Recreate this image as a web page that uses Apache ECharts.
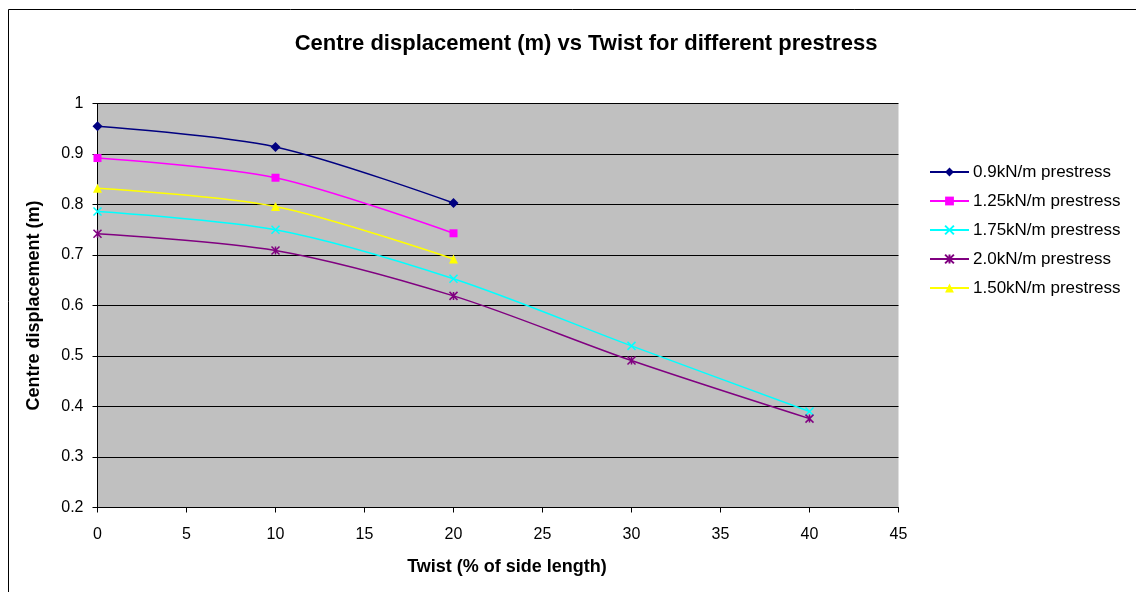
<!DOCTYPE html>
<html>
<head>
<meta charset="utf-8">
<script src="https://cdn.jsdelivr.net/npm/echarts@6/dist/echarts.min.js"></script>
<style>
html,body{margin:0;padding:0;background:#fff;}
#chart{width:1136px;height:592px;}
</style>
</head>
<body>
<div id="chart"></div>
<script>
const twist = [0, 10, 20, 30, 40];
const seriesNames = ['0.9kN/m prestress', '1.25kN/m prestress', '1.75kN/m prestress', '2.0kN/m prestress', '1.50kN/m prestress'];
const p090 = [0.955, 0.914, 0.803];
const p125 = [0.892, 0.853, 0.743];
const p175 = [0.786, 0.750, 0.653, 0.520, 0.390];
const p200 = [0.742, 0.709, 0.619, 0.491, 0.376];
const p150 = [0.832, 0.796, 0.692];
const yTicks = [0.2, 0.3, 0.4, 0.5, 0.6, 0.7, 0.8, 0.9, 1];
const xTicks = [0, 5, 10, 15, 20, 25, 30, 35, 40, 45];

function pairs(vals){ return vals.map((v,i)=>[twist[i], v]); }

const X_SYM = 'path://M0,0L10,10M10,0L0,10';
const STAR_SYM = 'path://M0,0L10,10M10,0L0,10M5,0L5,10';

const font = 'Arial, "Liberation Sans", sans-serif';

function mk(name, data, color, symbol, size, stroke){
  return {
    name: name, type: 'line', data: pairs(data),
    smooth: 0.3,
    symbol: symbol, symbolSize: size,
    lineStyle: {color: color, width: 1.5},
    itemStyle: stroke ? {color: color, borderColor: color, borderWidth: 1.5} : {color: color},
    emphasis: {disabled: true},
    z: 3
  };
}

const chart = echarts.init(document.getElementById('chart'), null, {renderer: 'canvas'});
chart.setOption({
  animation: false,
  backgroundColor: '#fff',
  graphic: [{
    type: 'rect', shape: {x: 8.5, y: 9.5, width: 1200, height: 700},
    style: {fill: 'none', stroke: '#000', lineWidth: 1}, silent: true, z: 0
  }],
  title: {
    text: 'Centre displacement (m) vs Twist for different prestress',
    left: 581, top: 28, textAlign: 'center',
    textStyle: {fontFamily: font, fontSize: 22, fontWeight: 'bold', color: '#000'}
  },
  legend: {
    orient: 'vertical', left: 924, top: 158.5,
    itemWidth: 39, itemHeight: 11, itemGap: 12,
    textStyle: {fontFamily: font, fontSize: 17, color: '#000', padding: [0,0,0,-1]},
    data: seriesNames
  },
  grid: {left: 97.5, right: 237.5, top: 103.5, bottom: 84.5, show: true, backgroundColor: '#c0c0c0', borderWidth: 0},
  xAxis: {
    type: 'value', min: 0, max: 45, interval: 5,
    name: 'Twist (% of side length)', nameLocation: 'middle', nameGap: 51,
    nameTextStyle: {fontFamily: font, fontSize: 18, fontWeight: 'bold', color: '#000', padding: [0,0,0,18]},
    axisLine: {show: true, lineStyle: {color: '#000', width: 1}},
    axisTick: {show: true, length: 5, lineStyle: {color: '#000'}},
    axisLabel: {fontFamily: font, fontSize: 16, color: '#000', margin: 19},
    splitLine: {show: false}
  },
  yAxis: {
    type: 'value', min: 0.2, max: 1, interval: 0.1,
    name: 'Centre displacement (m)', nameLocation: 'middle', nameGap: 54,
    nameTextStyle: {fontFamily: font, fontSize: 18, fontWeight: 'bold', color: '#000'},
    axisLine: {show: true, lineStyle: {color: '#000', width: 1}},
    axisTick: {show: true, length: 5, lineStyle: {color: '#000'}},
    axisLabel: {fontFamily: font, fontSize: 16, color: '#000', margin: 14,
      formatter: v => String(Math.round(v*10)/10)},
    splitLine: {show: true, lineStyle: {color: '#000', width: 1}}
  },
  series: [
    mk(seriesNames[0], p090, '#000080', 'diamond', 10, false),
    mk(seriesNames[1], p125, '#ff00ff', 'rect', 8, false),
    mk(seriesNames[2], p175, '#00ffff', X_SYM, 8, true),
    mk(seriesNames[3], p200, '#800080', STAR_SYM, 8, true),
    mk(seriesNames[4], p150, '#ffff00', 'triangle', 9, false)
  ]
});
</script>
</body>
</html>
